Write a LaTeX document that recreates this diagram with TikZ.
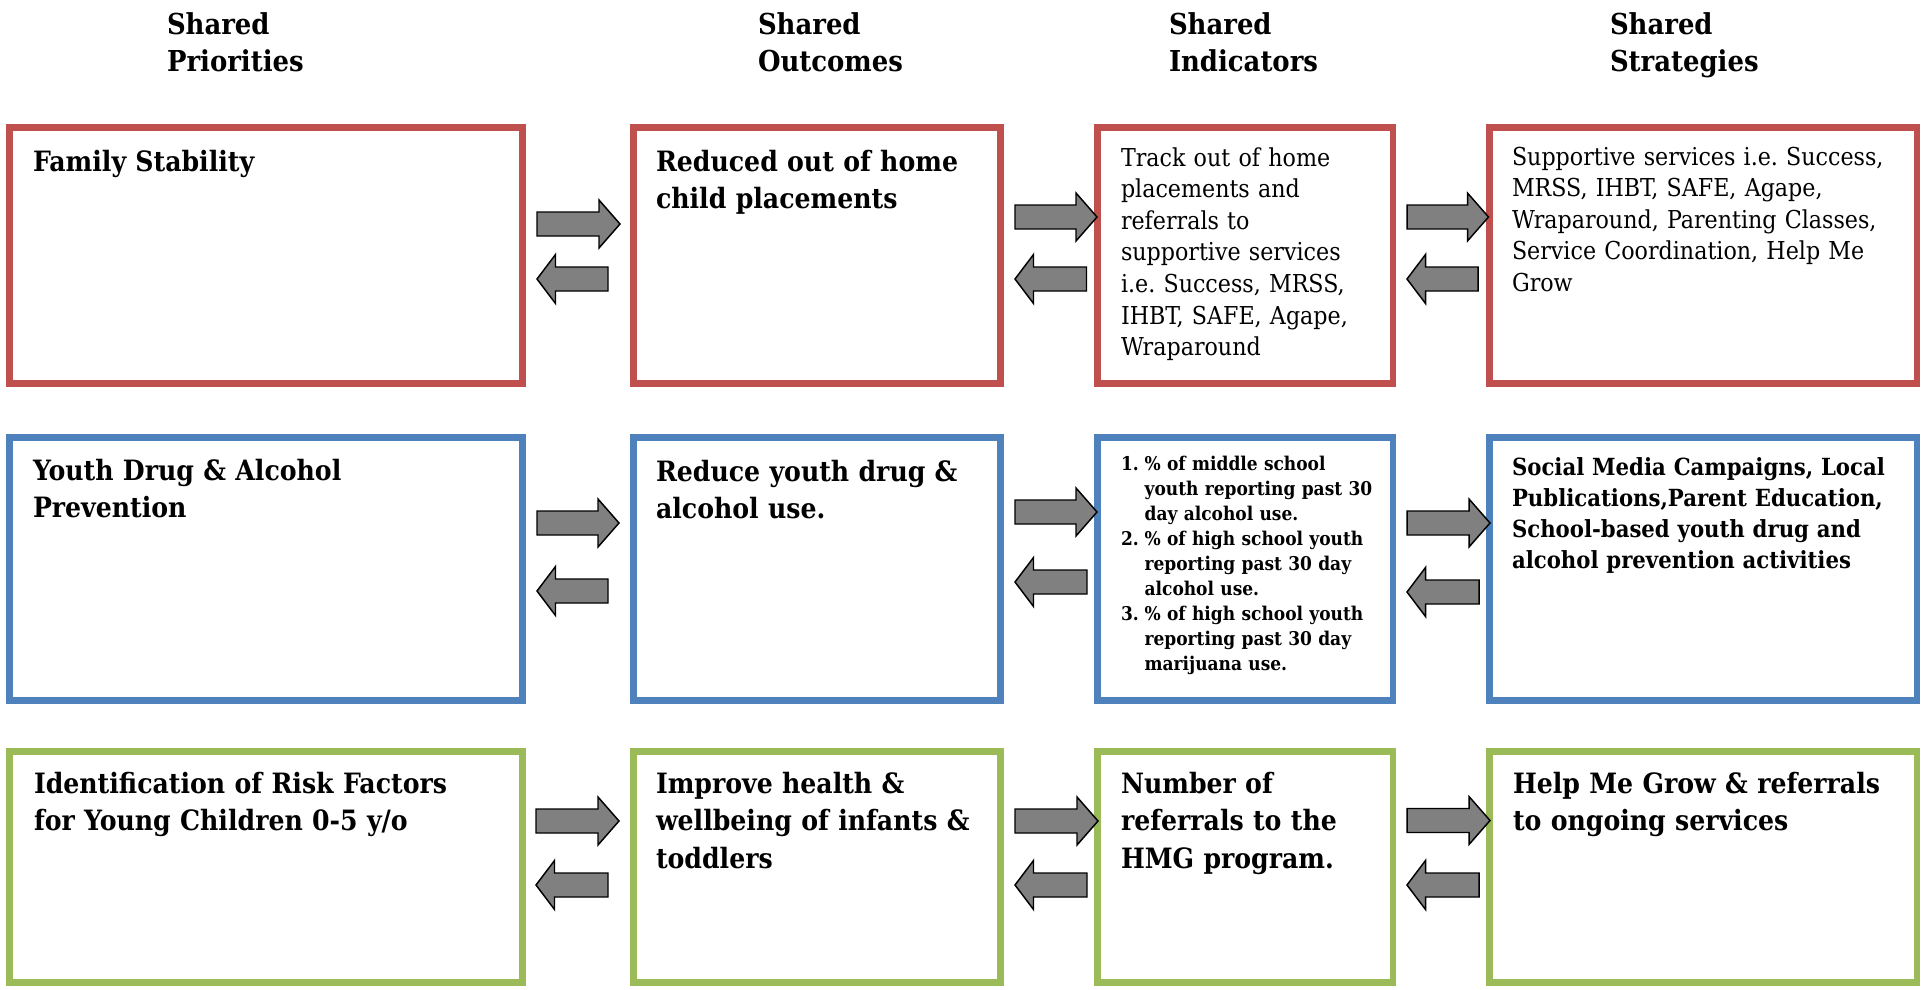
\documentclass[tikz,border=0pt]{standalone}
\usepackage{fontspec}
\setmainfont{DejaVu Serif Condensed}[BoldFont={DejaVu Serif Condensed Bold}]
\usetikzlibrary{fit}
\frenchspacing
\definecolor{cred}{HTML}{C0504D}
\definecolor{cblue}{HTML}{4F81BD}
\definecolor{cgreen}{HTML}{9BBB59}
\definecolor{agray}{HTML}{808080}
\newcommand\RArr[3]{\draw[barrow] ({#1},{#3-12}) -- ({#2-21},{#3-12}) -- ({#2-21},{#3-24}) -- ({#2},{#3}) -- ({#2-21},{#3+24}) -- ({#2-21},{#3+12}) -- ({#1},{#3+12}) -- cycle;}
\newcommand\LArr[3]{\draw[barrow] ({#1},{#3}) -- ({#1+18.5},{#3-24.5}) -- ({#1+18.5},{#3-12}) -- ({#2},{#3-12}) -- ({#2},{#3+12}) -- ({#1+18.5},{#3+12}) -- ({#1+18.5},{#3+24.5}) -- cycle;}
\newcommand\litem[1]{\makebox[17.7pt][l]{#1}}
\newcommand\lcont{\hspace*{17.7pt}}
\tikzset{
  box/.style={draw, line width=4.9pt, inner sep=0pt, outer sep=0pt},
  lbl/.style={anchor=base west, inner sep=0pt, outer sep=0pt, align=left, text width=420pt},
  big/.style={font=\fontsize{21}{28.3}\selectfont\bfseries},
  head/.style={font=\fontsize{21.6}{27.75}\selectfont\bfseries},
  reg/.style={font=\fontsize{18.5}{23.7}\selectfont},
  mid/.style={font=\fontsize{17.7}{23.3}\selectfont\bfseries},
  small/.style={font=\fontsize{14.2}{18.8}\selectfont\bfseries},
  barrow/.style={draw=black, fill=agray, line width=1.1pt, line join=miter},
}
\begin{document}
\begin{tikzpicture}[x=0.75pt,y=-0.75pt]
\useasboundingbox (0,0) rectangle (1923,989);
% headers
\node[lbl,head] (h1) at (167,34) {Shared\\Priorities};
\node[lbl,head] (h2) at (758,34) {Shared\\Outcomes};
\node[lbl,head] (h3) at (1169,34) {Shared\\Indicators};
\node[lbl,head] (h4) at (1610,34) {Shared\\Strategies};
% row 1 boxes
\node[box,draw=cred,fit={(9.25,127.75) (522.75,383.75)}] (a1) {};
\node[box,draw=cred,fit={(633.25,127.75) (1000.75,383.75)}] (b1) {};
\node[box,draw=cred,fit={(1097.25,127.75) (1392.75,383.75)}] (c1) {};
\node[box,draw=cred,fit={(1489.25,127.75) (1916.75,383.75)}] (d1) {};
% row 2 boxes
\node[box,draw=cblue,fit={(9.25,437.25) (522.75,700.75)}] (a2) {};
\node[box,draw=cblue,fit={(633.25,437.25) (1000.75,700.75)}] (b2) {};
\node[box,draw=cblue,fit={(1097.25,437.25) (1392.75,700.75)}] (c2) {};
\node[box,draw=cblue,fit={(1489.25,437.25) (1916.75,700.75)}] (d2) {};
% row 3 boxes
\node[box,draw=cgreen,fit={(9.25,751.25) (522.75,982.75)}] (a3) {};
\node[box,draw=cgreen,fit={(633.25,751.25) (1000.75,982.75)}] (b3) {};
\node[box,draw=cgreen,fit={(1097.25,751.25) (1392.75,982.75)}] (c3) {};
\node[box,draw=cgreen,fit={(1489.25,751.25) (1916.75,982.75)}] (d3) {};
% row 1 texts
\node[lbl,big] (ta1) at (33,171) {Family Stability};
\node[lbl,big] (tb1) at (656,171) {Reduced out of home\\child placements};
\node[lbl,reg] (tc1) at (1121,166) {Track out of home\\placements and\\referrals to\\supportive services\\i.e. Success, MRSS,\\IHBT, SAFE, Agape,\\Wraparound};
\node[lbl,reg] (td1) at (1512,165) {Supportive services i.e. Success,\\MRSS, IHBT, SAFE, Agape,\\Wraparound, Parenting Classes,\\Service Coordination, Help Me\\Grow};
% row 2 texts
\node[lbl,big] (ta2) at (33,480) {Youth Drug \& Alcohol\\Prevention};
\node[lbl,big] (tb2) at (656,481) {Reduce youth drug \&\\alcohol use.};
\node[lbl,small] (tc2) at (1121,470) {\litem{1.}\% of middle school\\\lcont youth reporting past 30\\\lcont day alcohol use.\\\litem{2.}\% of high school youth\\\lcont reporting past 30 day\\\lcont alcohol use.\\\litem{3.}\% of high school youth\\\lcont reporting past 30 day\\\lcont marijuana use.};
\node[lbl,mid] (td2) at (1512,475) {Social Media Campaigns, Local\\Publications,Parent Education,\\School-based youth drug and\\alcohol prevention activities};
% row 3 texts
\node[lbl,big] (ta3) at (34,793) {Identification of Risk Factors\\for Young Children 0-5 y/o};
\node[lbl,big] (tb3) at (656,793) {Improve health \&\\wellbeing of infants \&\\toddlers};
\node[lbl,big] (tc3) at (1121,793) {Number of\\referrals to the\\HMG program.};
\node[lbl,big] (td3) at (1513,793) {Help Me Grow \& referrals\\to ongoing services};
% arrows row 1
\RArr{537}{620}{224} \LArr{537}{608}{279}
\RArr{1015}{1097}{217} \LArr{1015}{1086.5}{279}
\RArr{1407}{1488.5}{217} \LArr{1407}{1478}{279}
% arrows row 2
\RArr{537}{619}{523} \LArr{537}{608}{591}
\RArr{1015}{1097}{512} \LArr{1015}{1087}{582}
\RArr{1407}{1490}{523} \LArr{1407}{1479}{592}
% arrows row 3
\RArr{536}{619}{821} \LArr{536}{608}{885}
\RArr{1015}{1098}{821} \LArr{1015}{1087}{885}
\RArr{1407}{1490}{820.5} \LArr{1407}{1479}{885}
\end{tikzpicture}
\end{document}
